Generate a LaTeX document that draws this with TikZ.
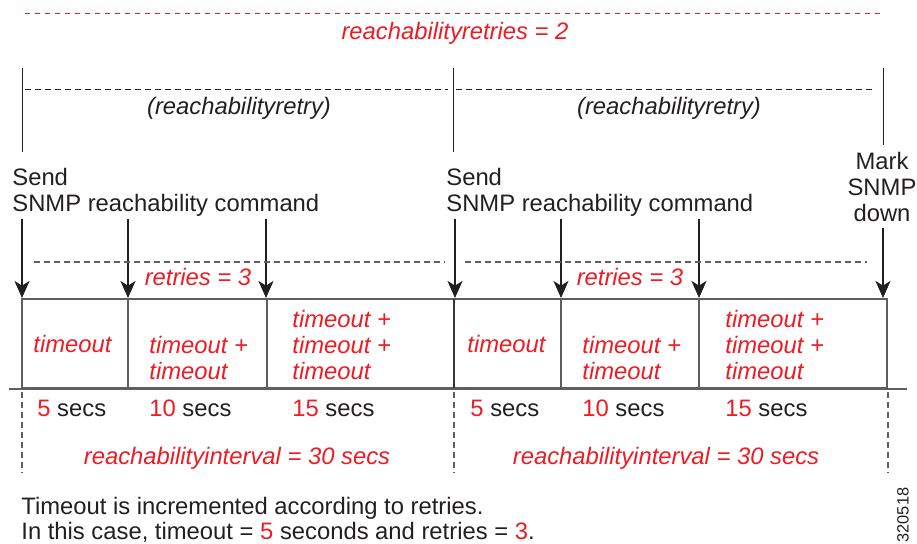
\documentclass[tikz,border=0pt]{standalone}
\usepackage{fontspec}
\setmainfont{Liberation Sans}
\usetikzlibrary{arrows.meta}
\definecolor{cred}{RGB}{237,28,36}
\definecolor{cblack}{RGB}{35,31,32}
\definecolor{cgray}{RGB}{95,95,95}
\tikzset{
  txt/.style={inner sep=0pt, text=cblack, font=\fontsize{11.9}{13.2}\selectfont},
  itxt/.style={txt, font=\fontsize{11.9}{13.2}\selectfont\itshape},
  rtxt/.style={itxt, text=cred},
  arr/.style={cblack, line width=0.55pt, -{Stealth[length=8.5pt, width=7.5pt, inset=2.3pt]}},
  cell/.style={draw=cgray, line width=0.7pt},
  gdash/.style={cgray, line width=0.55pt, dash pattern=on 3pt off 2pt},
  kdash/.style={cblack, line width=0.5pt, dash pattern=on 3pt off 2pt}
}

\begin{document}
\begin{tikzpicture}[x=0.5pt, y=-0.5pt]
	\useasboundingbox (0,0) rectangle (917,544);

	\draw[cred, line width=0.5pt, dash pattern=on 2.5pt off 2.5pt] (25,14) -- (884,14);
	\node[rtxt, anchor=base] (retries2) at (455,40) {reachabilityretries = 2};

	\draw[cblack, line width=0.5pt] (22,68) -- (22,152);
	\draw[cblack, line width=0.5pt] (453,68) -- (453,152);
	\draw[cblack, line width=0.5pt] (883,68) -- (883,145);
	\draw[kdash] (25,90) -- (448,90);
	\draw[kdash] (456,90) -- (875,90);
	\node[itxt, anchor=base] (retry1) at (239,115) {(reachabilityretry)};
	\node[itxt, anchor=base] (retry2) at (669,115) {(reachabilityretry)};

	\node[txt, anchor=base west, align=left] (send1) at (12,212) {Send\\SNMP reachability command};
	\node[txt, anchor=base west, align=left] (send2) at (446,212) {Send\\SNMP reachability command};
	\node[txt, anchor=base, align=center] (mark) at (882,222) {Mark\\SNMP\\down};

	\foreach \x [count=\i] in {22,128,266,455,561,699} {
		\coordinate (s\i) at (\x,219);
		\coordinate (e\i) at (\x,298);
		\draw[arr] (s\i) -- (e\i);
	}
	\coordinate (s7) at (883,228);
	\coordinate (e7) at (883,298);
	\draw[arr] (s7) -- (e7);

	\draw[gdash] (34,262) -- (445,262);
	\draw[gdash] (465,262) -- (867,262);
	\node[rtxt, anchor=base] (retries3a) at (198,286) {retries = 3};
	\node[rtxt, anchor=base] (retries3b) at (630,286) {retries = 3};

	\draw[cell] (22,299) rectangle (128,388);
	\draw[cell] (128,299) rectangle (267,388);
	\draw[cell] (267,299) rectangle (454,388);
	\draw[cell] (454,299) rectangle (561,388);
	\draw[cell] (561,299) rectangle (699,388);
	\draw[cell] (699,299) rectangle (887,388);
	\draw[cblack!90, line width=1pt] (454,299) -- (454,388);
	\draw[cgray, line width=0.7pt] (9,389) -- (907,389);

	\node[rtxt, anchor=base west, align=left] (c1) at (33,353) {timeout};
	\node[rtxt, anchor=base west, align=left] (c2) at (149,380) {timeout +\\timeout};
	\node[rtxt, anchor=base west, align=left] (c3) at (292,380) {timeout +\\timeout +\\timeout};
	\node[rtxt, anchor=base west, align=left] (c4) at (467,353) {timeout};
	\node[rtxt, anchor=base west, align=left] (c5) at (582,380) {timeout +\\timeout};
	\node[rtxt, anchor=base west, align=left] (c6) at (725,380) {timeout +\\timeout +\\timeout};

	\node[txt, anchor=base west] (secs1) at (37,417) {\textcolor{cred}{5} secs};
	\node[txt, anchor=base west] (secs2) at (149,417) {\textcolor{cred}{10} secs};
	\node[txt, anchor=base west] (secs3) at (292,417) {\textcolor{cred}{15} secs};
	\node[txt, anchor=base west] (secs4) at (470,417) {\textcolor{cred}{5} secs};
	\node[txt, anchor=base west] (secs5) at (582,417) {\textcolor{cred}{10} secs};
	\node[txt, anchor=base west] (secs6) at (725,417) {\textcolor{cred}{15} secs};

	\draw[gdash] (22,392) -- (22,473);
	\draw[gdash] (454,392) -- (454,473);
	\draw[gdash] (888,392) -- (888,473);
	\node[rtxt, anchor=base] (interval1) at (237,465) {reachabilityinterval = 30 secs};
	\node[rtxt, anchor=base] (interval2) at (666,465) {reachabilityinterval = 30 secs};

	\node[txt, anchor=base west, align=left, font=\fontsize{11.9}{12.5}\selectfont] (note) at (21,540) {Timeout is incremented according to retries.\\In this case, timeout = \textcolor{cred}{5} seconds and retries = \textcolor{cred}{3}.};
	\node[txt, rotate=90, font=\fontsize{8.2}{9}\selectfont] (fig) at (903,515) {320518};
\end{tikzpicture}
\end{document}
